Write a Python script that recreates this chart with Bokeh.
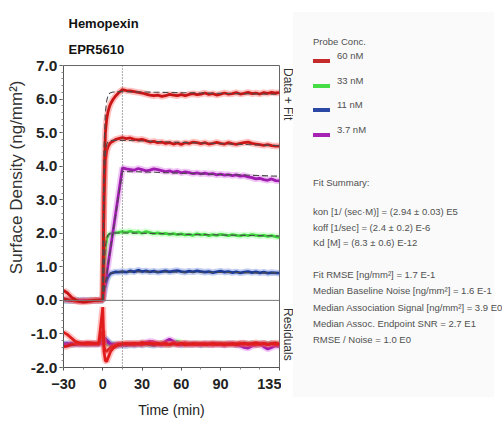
from bokeh.plotting import figure
from bokeh.models import Range1d, FixedTicker, PrintfTickFormatter, Span, Title, Div
from bokeh.layouts import row
from bokeh.embed import file_html
from bokeh.resources import INLINE

# ---------------- data ----------------
TIME = [-30, -27, -24, -21, -18, -15, -12, -9, -6, -3,
        0, 1, 2, 3, 4, 5, 6, 8, 10, 12, 15,
        18, 21, 24, 27, 30, 33, 36, 39, 42, 45, 48, 51, 54, 57, 60, 63, 66, 69, 72, 75,
        78, 81, 84, 87, 90, 93, 96, 99, 102, 105, 108, 111, 114, 117, 120, 123, 126, 129, 132, 135]

RED_A = [0.30, 0.22, 0.10, 0.02, -0.03, -0.05, -0.04, -0.02, 0.00, 0.01,
         0.02, 3.60, 5.00, 5.40, 5.62, 5.76, 5.86, 6.00, 6.10, 6.18, 6.28,
         6.25, 6.24, 6.22, 6.20, 6.18, 6.15, 6.12, 6.10, 6.12, 6.08, 6.10, 6.14, 6.12, 6.10, 6.13, 6.10, 6.14, 6.16, 6.13, 6.15,
         6.18, 6.14, 6.16, 6.12, 6.15, 6.18, 6.15, 6.16, 6.19, 6.15, 6.17, 6.20, 6.16, 6.18, 6.15, 6.19, 6.17, 6.20, 6.18, 6.19]
RED_B = [0.05, 0.02, 0.00, -0.02, -0.03, -0.02, -0.01, 0.00, 0.01, 0.00,
         0.02, 3.00, 4.20, 4.45, 4.58, 4.65, 4.70, 4.75, 4.80, 4.82, 4.85,
         4.82, 4.84, 4.80, 4.78, 4.80, 4.76, 4.72, 4.74, 4.70, 4.72, 4.68, 4.70, 4.66, 4.69, 4.65, 4.70, 4.68, 4.72, 4.70, 4.67,
         4.70, 4.66, 4.68, 4.71, 4.68, 4.66, 4.70, 4.67, 4.65, 4.68, 4.70, 4.72, 4.68, 4.66, 4.64, 4.62, 4.64, 4.61, 4.60, 4.60]
PURPLE = [0.02, 0.01, 0.00, -0.01, 0.00, 0.01, 0.00, -0.01, 0.00, 0.01,
          0.00, 0.26, 0.53, 0.79, 1.05, 1.32, 1.58, 2.10, 2.63, 3.16, 3.95,
          3.92, 3.90, 3.88, 3.93, 3.90, 3.86, 3.88, 3.92, 3.90, 3.87, 3.84, 3.86, 3.82, 3.85, 3.80, 3.83, 3.81, 3.78, 3.80, 3.77,
          3.79, 3.76, 3.78, 3.74, 3.76, 3.73, 3.75, 3.72, 3.74, 3.70, 3.72, 3.68, 3.66, 3.62, 3.64, 3.60, 3.58, 3.62, 3.57, 3.56]
GREEN = [0.00, 0.01, -0.01, 0.00, 0.01, 0.00, -0.01, 0.00, 0.01, 0.00,
         0.00, 0.90, 1.55, 1.85, 1.93, 1.97, 1.99, 2.00, 2.02, 2.03, 2.05,
         2.03, 2.06, 2.02, 2.04, 2.00, 2.05, 2.02, 1.99, 2.01, 1.98, 2.00, 1.97, 1.99, 1.96, 1.98, 1.95, 1.97, 1.94, 1.98, 1.95,
         1.97, 1.93, 1.96, 1.94, 1.97, 1.95, 1.93, 1.96, 1.94, 1.92, 1.95, 1.93, 1.96, 1.94, 1.92, 1.94, 1.91, 1.93, 1.90, 1.88]
BLUE = [0.00, -0.01, 0.00, 0.01, 0.00, -0.01, 0.00, 0.01, 0.00, 0.00,
        0.00, 0.25, 0.45, 0.60, 0.70, 0.76, 0.80, 0.83, 0.85, 0.84, 0.86,
        0.84, 0.88, 0.85, 0.90, 0.86, 0.88, 0.85, 0.87, 0.84, 0.86, 0.88, 0.85, 0.87, 0.89, 0.86, 0.84, 0.87, 0.85, 0.88, 0.86,
        0.84, 0.86, 0.83, 0.85, 0.87, 0.84, 0.86, 0.83, 0.85, 0.82, 0.84, 0.86, 0.83, 0.85, 0.82, 0.84, 0.81, 0.83, 0.82, 0.81]

# residuals (drawn with an offset of about -1.3 below the zero line)
RES_RED_A = [-0.95, -1.02, -1.12, -1.22, -1.27, -1.28, -1.26, -1.27, -1.28, -1.27,
             -0.20, -1.55, -1.80, -1.82, -1.72, -1.62, -1.52, -1.42, -1.36, -1.32, -1.30,
             -1.28, -1.31, -1.27, -1.30, -1.26, -1.29, -1.27, -1.31, -1.28, -1.30, -1.27, -1.32, -1.29, -1.31, -1.28, -1.33, -1.30, -1.28, -1.31, -1.29,
             -1.32, -1.30, -1.27, -1.31, -1.29, -1.33, -1.30, -1.28, -1.32, -1.30, -1.27, -1.31, -1.29, -1.26, -1.30, -1.28, -1.32, -1.29, -1.27, -1.30]
RES_RED_B = [-1.38, -1.36, -1.32, -1.30, -1.29, -1.30, -1.31, -1.30, -1.29, -1.30,
             -0.90, -1.40, -1.50, -1.52, -1.48, -1.44, -1.40, -1.36, -1.33, -1.31, -1.29,
             -1.30, -1.28, -1.31, -1.29, -1.32, -1.28, -1.30, -1.27, -1.31, -1.29, -1.33, -1.30, -1.28, -1.31, -1.29, -1.27, -1.30, -1.32, -1.29, -1.31,
             -1.28, -1.30, -1.33, -1.29, -1.31, -1.28, -1.30, -1.32, -1.29, -1.27, -1.31, -1.29, -1.30, -1.33, -1.30, -1.28, -1.31, -1.29, -1.32, -1.30]
RES_PURPLE = [-1.31, -1.30, -1.29, -1.30, -1.31, -1.30, -1.29, -1.30, -1.31, -1.30,
              -1.28, -1.20, -1.18, -1.22, -1.25, -1.28, -1.30, -1.31, -1.30, -1.29, -1.32,
              -1.30, -1.28, -1.31, -1.29, -1.27, -1.25, -1.22, -1.24, -1.28, -1.30, -1.22, -1.16, -1.22, -1.29, -1.31, -1.28, -1.30, -1.32, -1.29, -1.31,
              -1.28, -1.30, -1.32, -1.29, -1.31, -1.33, -1.30, -1.28, -1.31, -1.35, -1.40, -1.42, -1.36, -1.32, -1.30, -1.38, -1.45, -1.40, -1.35, -1.37]
RES_GREEN = [-1.30, -1.31, -1.29, -1.30, -1.30, -1.31, -1.30, -1.29, -1.30, -1.30,
             -1.25, -1.22, -1.26, -1.30, -1.32, -1.31, -1.30, -1.29, -1.30, -1.31, -1.30,
             -1.29, -1.31, -1.28, -1.30, -1.27, -1.29, -1.31, -1.28, -1.30, -1.26, -1.29, -1.31, -1.28, -1.22, -1.27, -1.30, -1.29, -1.31, -1.28, -1.30,
             -1.32, -1.29, -1.31, -1.28, -1.30, -1.29, -1.31, -1.28, -1.30, -1.32, -1.29, -1.31, -1.28, -1.30, -1.29, -1.31, -1.30, -1.28, -1.31, -1.30]
RES_BLUE = [-1.30, -1.29, -1.31, -1.30, -1.29, -1.30, -1.31, -1.30, -1.29, -1.30,
            -1.20, -1.12, -1.14, -1.18, -1.22, -1.26, -1.30, -1.34, -1.36, -1.35, -1.33,
            -1.35, -1.32, -1.34, -1.31, -1.33, -1.30, -1.32, -1.34, -1.31, -1.33, -1.30, -1.32, -1.29, -1.31, -1.33, -1.30, -1.32, -1.29, -1.31, -1.33,
            -1.30, -1.32, -1.29, -1.31, -1.30, -1.32, -1.29, -1.31, -1.33, -1.30, -1.28, -1.31, -1.29, -1.32, -1.30, -1.28, -1.31, -1.29, -1.30, -1.32]

# fits
TIME_FIT = [0, 1, 2, 3, 4, 5, 6, 8, 10, 12, 15, 30, 45, 60, 75, 90, 105, 120, 135]
FIT_RED_A = [0.0, 4.60, 5.60, 5.95, 6.10, 6.16, 6.19, 6.21, 6.22, 6.22, 6.22, 6.21, 6.20, 6.19, 6.18, 6.17, 6.16, 6.15, 6.14]
FIT_RED_B = [0.0, 3.60, 4.40, 4.65, 4.72, 4.75, 4.76, 4.77, 4.77, 4.77, 4.77, 4.75, 4.73, 4.71, 4.69, 4.67, 4.65, 4.63, 4.61]
FIT_PURPLE = [0.0, 0.26, 0.52, 0.78, 1.04, 1.30, 1.56, 2.07, 2.58, 3.08, 3.84, 3.83, 3.81, 3.79, 3.77, 3.75, 3.74, 3.72, 3.70]
FIT_GREEN = [0.0, 1.00, 1.60, 1.85, 1.94, 1.98, 2.00, 2.01, 2.01, 2.01, 2.01, 2.00, 1.99, 1.97, 1.96, 1.95, 1.94, 1.93, 1.92]
FIT_BLUE = [0.0, 0.30, 0.50, 0.63, 0.72, 0.77, 0.80, 0.83, 0.84, 0.85, 0.85, 0.85, 0.85, 0.84, 0.84, 0.83, 0.83, 0.82, 0.82]

X_TICKS = [-30, 0, 30, 60, 90, 135]
X_MINOR = [-15, 15, 45, 75, 105, 120]
Y_TICKS = [-2.0, -1.0, 0.0, 1.0, 2.0, 3.0, 4.0, 5.0, 6.0, 7.0]

LEGEND_LABELS = ["60 nM", "33 nM", "11 nM", "3.7 nM"]
LEGEND_COLORS = ["#c42a2a", "#46dc46", "#2a48a4", "#a522b5"]

SUMMARY_1 = ["kon  [1/ (sec·M)]  =   (2.94 ± 0.03) E5",
             "koff  [1/sec]  =   (2.4 ± 0.2) E-6",
             "Kd  [M]  =   (8.3 ± 0.6) E-12"]
SUMMARY_2 = ["Fit RMSE [ng/mm²]  =   1.7 E-1",
             "Median Baseline Noise [ng/mm²]  =   1.6 E-1",
             "Median Association Signal [ng/mm²]  =   3.9 E0",
             "Median Assoc. Endpoint SNR  =   2.7 E1",
             "RMSE / Noise  =   1.0 E0"]

FONT = "Liberation Sans"

# ---------------- main plot ----------------
p = figure(width=281, height=424, output_backend="svg", toolbar_location=None, title=None,
           x_range=Range1d(-30, 135), y_range=Range1d(-2.0, 7.0),
           min_border_left=63, min_border_right=2, min_border_top=65, min_border_bottom=57)
p.xgrid.visible = False
p.ygrid.visible = False
p.outline_line_color = "#666666"
p.background_fill_color = "white"
p.border_fill_color = "white"

p.xaxis.ticker = FixedTicker(ticks=X_TICKS, minor_ticks=X_MINOR)
p.yaxis.ticker = FixedTicker(ticks=Y_TICKS, minor_ticks=[round(-2.0 + 0.2 * i, 1) for i in range(46)])
p.yaxis.formatter = PrintfTickFormatter(format="%.1f")
for ax in (p.xaxis, p.yaxis):
    ax.axis_line_color = "#555555"
    ax.major_tick_line_color = "#555555"
    ax.minor_tick_line_color = "#888888"
    ax.major_label_text_font = FONT
    ax.major_label_text_font_style = "bold"
    ax.major_label_text_color = "#222222"
p.yaxis.major_label_text_font_size = "15.5px"
p.xaxis.major_label_text_font_size = "14.5px"
p.yaxis.major_tick_in = 0
p.yaxis.major_tick_out = 4
p.yaxis.minor_tick_in = 0
p.yaxis.minor_tick_out = 2
p.yaxis.major_label_standoff = 2
p.xaxis.major_tick_in = 0
p.xaxis.major_tick_out = 3
p.xaxis.minor_tick_in = 0
p.xaxis.minor_tick_out = 2
p.xaxis.major_label_standoff = 8
p.xaxis.axis_label = "Time (min)"
p.xaxis.axis_label_text_font = FONT
p.xaxis.axis_label_text_font_style = "normal"
p.xaxis.axis_label_text_font_size = "14px"
p.xaxis.axis_label_text_color = "#222222"
p.xaxis.axis_label_standoff = 10

p.add_layout(Title(text="EPR5610", align="left", offset=5, standoff=18, text_font=FONT,
                   text_font_style="bold", text_font_size="13px", text_color="#111111"), "above")
p.add_layout(Title(text="Hemopexin", align="left", offset=5, standoff=0, text_font=FONT,
                   text_font_style="bold", text_font_size="13px", text_color="#111111"), "above")
p.add_layout(Title(text="Surface Density (ng/mm²)", align="right", offset=15, standoff=4, text_font=FONT,
                   text_font_style="normal", text_font_size="17px", text_color="#333333"), "left")

p.add_layout(Span(location=0.0, dimension="width", line_color="#777777", line_width=1))
p.add_layout(Span(location=15.0, dimension="height", line_color="#555555", line_width=1, line_dash="1 2"))

series = [
    (BLUE, "#1a3a9a", "#4f6fd4"),
    (GREEN, "#3ed43e", "#86ff86"),
    (PURPLE, "#a01cb0", "#d35ae2"),
    (RED_B, "#cc1616", "#ff4a4a"),
    (RED_A, "#c81414", "#ff4a4a"),
]
for ys, core, halo in series:
    p.line(TIME, ys, line_color=halo, line_width=6.5, line_alpha=0.35)
    p.line(TIME, ys, line_color=core, line_width=2.8)

for fy in (FIT_BLUE, FIT_GREEN, FIT_PURPLE, FIT_RED_B, FIT_RED_A):
    p.line(TIME_FIT, fy, line_color="#4a4a4a", line_width=1.1, line_dash="6 3")

res = [
    (RES_GREEN, "#3ed43e", "#86ff86"),
    (RES_BLUE, "#1a3a9a", "#4f6fd4"),
    (RES_PURPLE, "#a01cb0", "#d35ae2"),
    (RES_RED_B, "#d41a1a", "#ff4a4a"),
    (RES_RED_A, "#e01c1c", "#ff4a4a"),
]
for ys, core, halo in res:
    p.line(TIME, ys, line_color=halo, line_width=6.5, line_alpha=0.35)
    p.line(TIME, ys, line_color=core, line_width=2.8)

# ---------------- side panel (HTML text) ----------------
def at(left, center_y, text, size=9.5, color="#505050", extra=""):
    lh = 12
    return (f'<div style="position:absolute;left:{left}px;top:{center_y - lh / 2:.1f}px;'
            f'line-height:{lh}px;font-size:{size}px;color:{color};white-space:nowrap;{extra}">{text}</div>')

parts = ['<div style="position:relative;width:213px;height:424px;font-family:\'Liberation Sans\',Arial,sans-serif;">']
parts.append('<div style="position:absolute;left:0px;top:68px;writing-mode:vertical-rl;font-size:12px;'
             'line-height:13px;color:#333333;">Data + Fit</div>')
parts.append('<div style="position:absolute;left:0px;top:308px;writing-mode:vertical-rl;font-size:12px;'
             'line-height:13px;color:#333333;">Residuals</div>')
parts.append('<div style="position:absolute;left:12px;top:12px;width:201px;height:385px;background:#fafafa;"></div>')
parts.append(at(32, 42, "Probe Conc."))
for i, (lab, col) in enumerate(zip(LEGEND_LABELS, LEGEND_COLORS)):
    ly = 61 + 24.7 * i
    parts.append(f'<div style="position:absolute;left:32px;top:{ly - 2:.1f}px;width:17px;height:4px;background:{col};"></div>')
    parts.append(at(56, ly - 5, lab))
parts.append(at(32, 183, "Fit Summary:"))
for i, s in enumerate(SUMMARY_1):
    parts.append(at(32, 212 + 15.7 * i, s))
for i, s in enumerate(SUMMARY_2):
    parts.append(at(32, 275 + 16.3 * i, s))
parts.append('</div>')

panel = Div(text="".join(parts), width=213, height=424, margin=0)

layout = row(p, panel)
open("out.html", "w").write(file_html(layout, INLINE))
